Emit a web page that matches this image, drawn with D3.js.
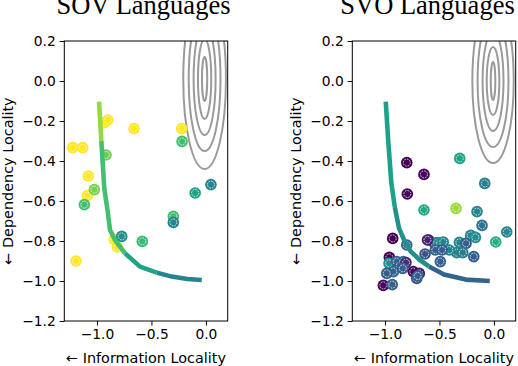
<!DOCTYPE html>
<html>
<head>
<meta charset="utf-8">
<script src="https://cdn.jsdelivr.net/npm/d3@7"></script>
<style>
  body { margin: 0; background: #fff; }
  svg { display: block; }
  .tick text { font-family: "DejaVu Sans", sans-serif; font-size: 13.8px; fill: #000; }
  .title { font-family: "Liberation Serif", "DejaVu Serif", serif; font-size: 26.5px; }
  .label { font-family: "DejaVu Sans", sans-serif; font-size: 14.4px; }
</style>
</head>
<body>
<div id="chart"></div>
<script>
const xTicks = [-1.0, -0.5, 0.0];
const yTicks = [0.2, 0.0, -0.2, -0.4, -0.6, -0.8, -1.0, -1.2];

// SOV panel
const sovX = [-1.223, -1.131, -0.935, -0.901, -0.66, -0.222, -0.219, -0.917, -1.08, 0.046, -1.089,
  -1.024, -1.116, -0.099, -0.299, -0.299, -0.841, -0.773, -0.813, -0.584, -1.193];
const sovY = [-0.333, -0.333, -0.208, -0.195, -0.238, -0.238, -0.302, -0.37, -0.475, -0.518, -0.573,
  -0.543, -0.618, -0.56, -0.677, -0.707, -0.793, -0.777, -0.83, -0.802, -0.9];
const sovC = [1, 1, 1, 1, 1, 1, 0.7, 0.78, 1, 0.45, 1, 0.8, 0.7, 0.57, 0.7, 0.45, 1, 0.5, 1, 0.68, 1];

const sovCurveX = [-0.981, -0.96, -0.933, -0.905, -0.88, -0.834, -0.742, -0.605, -0.451, -0.314, -0.17, -0.038];
const sovCurveY = [-0.103, -0.30, -0.537, -0.64, -0.745, -0.795, -0.862, -0.928, -0.958, -0.978, -0.99, -0.995];
const sovCurveC = [0.84, 0.84, 0.7, 0.7, 0.7, 0.7, 0.7, 0.58, 0.58, 0.45, 0.45, 0.45];

const sovContourRx = [0.024, 0.061, 0.101, 0.146, 0.196];
const sovContourBottom = [-0.10, -0.19, -0.27, -0.35, -0.44];
const sovContourCenter = [-0.012, 0.01];

// SVO panel
const svoX = [-0.800, -0.642, -0.795, -0.314, -0.084, -0.642, -0.348, -0.155, -0.109, 0.118, 0.017,
  -0.213, -0.17, -0.317, -0.256, -0.341, -0.286, -0.185, -0.409, -0.598, -0.543, -0.52, -0.495, -0.465,
  -0.538, -0.476, -0.632, -0.492, -0.929, -0.8, -0.96, -0.963, -0.892, -0.862, -0.832, -0.807, -0.923,
  -0.984, -0.837, -0.74, -0.685, -0.709, -1.015, -0.933, -0.70, -0.61];
const svoY = [-0.408, -0.467, -0.565, -0.387, -0.512, -0.645, -0.637, -0.653, -0.722, -0.755, -0.805,
  -0.772, -0.782, -0.807, -0.812, -0.858, -0.858, -0.878, -0.845, -0.795, -0.812, -0.808, -0.812, -0.805,
  -0.845, -0.845, -0.865, -0.903, -0.787, -0.82, -0.882, -0.912, -0.903, -0.92, -0.903, -0.908, -0.953,
  -0.962, -0.937, -0.953, -0.962, -0.987, -1.022, -1.018, -0.975, -0.795];
const svoC = [0, 0.02, 0.02, 0.58, 0.42, 0.6, 0.85, 0.45, 0.38, 0.45, 0.62,
  0.45, 0.48, 0.45, 0.3, 0.45, 0.42, 0.3, 0.45, 0.12, 0.15, 0.45, 0.5, 0.45,
  0.3, 0.3, 0.25, 0.3, 0, 0.3, 0, 0.5, 0.32, 0.3, 0.35, 0.12, 0.32,
  0.3, 0.3, 0.02, 0.05, 0.25, 0.02, 0.3, 0.3, 0.1];

const svoCurveX = [-0.993, -0.97, -0.942, -0.91, -0.871, -0.82, -0.764, -0.68, -0.596, -0.458, -0.259, -0.038];
const svoCurveY = [-0.103, -0.30, -0.508, -0.63, -0.737, -0.80, -0.852, -0.895, -0.927, -0.968, -0.993, -1.0];
const svoCurveC = [0.57, 0.57, 0.57, 0.57, 0.5, 0.5, 0.5, 0.5, 0.5, 0.32, 0.32, 0.32];

const svoContourRx = [0.021, 0.058, 0.096, 0.142, 0.19];
const svoContourBottom = [-0.095, -0.17, -0.25, -0.33, -0.41];
const svoContourCenter = [-0.008, 0.0];

const W = 518, H = 366;
const svg = d3.select('#chart').append('svg').attr('width', W).attr('height', H);

function drawPanel(id, left, title, titleX, pts, curve, contour) {
  const top = 41, bottom = 321, right = left + 163.4;
  const x = d3.scaleLinear().domain([-1.3, 0.2]).range([left, right]);
  const y = d3.scaleLinear().domain([-1.2, 0.2]).range([bottom, top]);
  const g = svg.append('g');

  g.append('clipPath').attr('id', 'clip-' + id)
    .append('rect').attr('x', left).attr('y', top).attr('width', right - left).attr('height', bottom - top);
  const plot = g.append('g').attr('clip-path', `url(#clip-${id})`);

  // density contours
  const [cx, cy] = contour.center;
  plot.selectAll('ellipse.contour')
    .data(contour.rx.map((r, i) => ({ r, b: contour.bottom[i] })))
    .join('ellipse')
    .attr('cx', x(cx)).attr('cy', y(cy))
    .attr('rx', d => x(cx + d.r) - x(cx))
    .attr('ry', d => y(d.b) - y(cy))
    .attr('fill', 'none').attr('stroke', '#9a9a9a').attr('stroke-width', 2);

  // scatter
  const dots = plot.selectAll('g.dot')
    .data(pts.x.map((v, i) => ({ x: v, y: pts.y[i], c: pts.c[i] })))
    .join('g')
    .attr('transform', d => `translate(${x(d.x)},${y(d.y)})`);
  dots.append('circle').attr('r', 5.8).attr('fill', d => d3.interpolateViridis(d.c));
  dots.append('circle').attr('r', 3.5).attr('fill', 'none')
    .attr('stroke', '#fff').attr('stroke-width', 0.8).attr('stroke-dasharray', '1.6,1.1');

  // frontier curve, coloured in runs
  const cpts = curve.x.map((v, i) => ({ x: v, y: curve.y[i], c: curve.c[i] }));
  const runs = [];
  let cur = [cpts[0]];
  for (let i = 1; i < cpts.length; i++) {
    cur.push(cpts[i]);
    if (i === cpts.length - 1 || cpts[i].c !== cpts[i + 1].c) {
      runs.push({ c: cpts[i - 1].c, p: cur });
      cur = [cpts[i]];
    }
  }
  const line = d3.line().x(d => x(d.x)).y(d => y(d.y));
  plot.selectAll('path.curve').data(runs).join('path')
    .attr('d', d => line(d.p))
    .attr('fill', 'none')
    .attr('stroke', d => d3.interpolateViridis(d.c))
    .attr('stroke-width', 4.6)
    .attr('stroke-linejoin', 'round');

  // axes
  const fmt = d3.format('.1f');
  g.append('g').attr('transform', `translate(0,${bottom})`)
    .call(d3.axisBottom(x).tickValues(xTicks).tickFormat(fmt).tickSize(4.6).tickPadding(4))
    .call(a => a.select('.domain').remove());
  g.append('g').attr('transform', `translate(${left},0)`)
    .call(d3.axisLeft(y).tickValues(yTicks).tickFormat(fmt).tickSize(4.6).tickPadding(4))
    .call(a => a.select('.domain').remove());
  g.selectAll('.tick line').attr('stroke', '#000').attr('stroke-width', 1);

  g.append('rect').attr('x', left).attr('y', top).attr('width', right - left).attr('height', bottom - top)
    .attr('fill', 'none').attr('stroke', '#000').attr('stroke-width', 1);

  g.append('text').attr('class', 'title').attr('x', titleX).attr('y', 14)
    .attr('text-anchor', 'middle').text(title);
  g.append('text').attr('class', 'label').attr('x', (left + right) / 2).attr('y', 363)
    .attr('text-anchor', 'middle').text('\u2190  Information Locality');
  g.append('text').attr('class', 'label')
    .attr('transform', `translate(${left - 51},${(top + bottom) / 2}) rotate(-90)`)
    .attr('text-anchor', 'middle').text('\u2190  Dependency Locality');
}

drawPanel('sov', 64.3, 'SOV Languages', 143.5,
  { x: sovX, y: sovY, c: sovC },
  { x: sovCurveX, y: sovCurveY, c: sovCurveC },
  { rx: sovContourRx, bottom: sovContourBottom, center: sovContourCenter });
drawPanel('svo', 352.3, 'SVO Languages', 427.5,
  { x: svoX, y: svoY, c: svoC },
  { x: svoCurveX, y: svoCurveY, c: svoCurveC },
  { rx: svoContourRx, bottom: svoContourBottom, center: svoContourCenter });
</script>
</body>
</html>
